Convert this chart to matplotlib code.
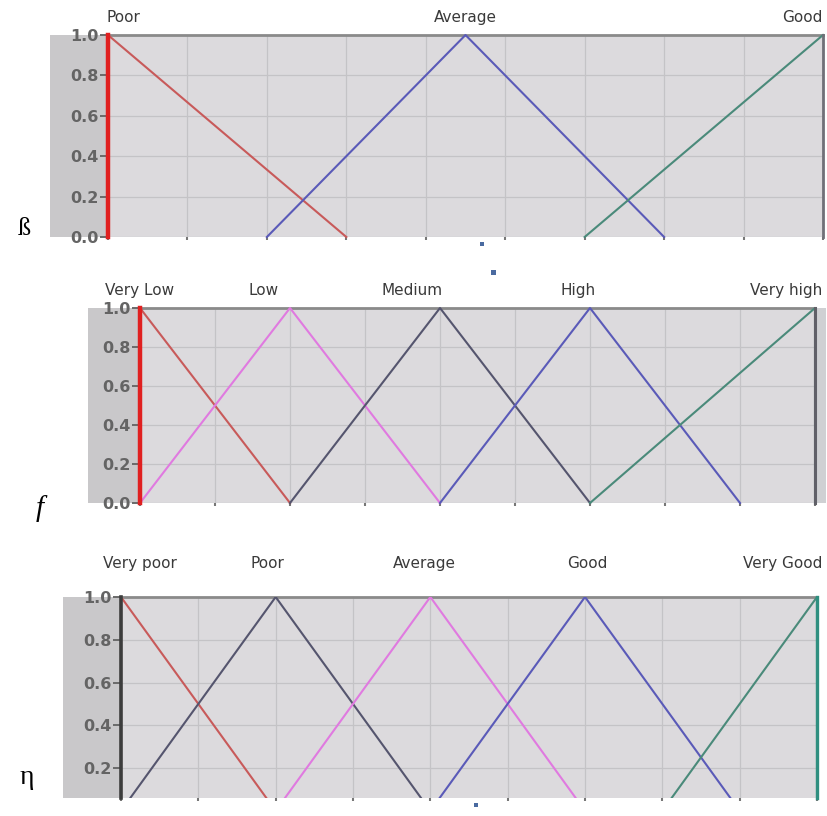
import matplotlib
matplotlib.use("Agg")
import matplotlib.pyplot as plt
from matplotlib.patches import Rectangle

W, H = 828, 816

# ---------------- data ----------------
ticks_y = [0.0, 0.2, 0.4, 0.6, 0.8, 1.0]
ticks_x = [0, 1, 2, 3, 4, 5, 6, 7, 8, 9]

# Panel 1 (beta)
p1_names = ["Poor", "Average", "Good"]
p1_x = [[0, 0, 3], [2, 4.5, 7], [6, 9, 9]]
p1_y = [[0, 1, 0], [0, 1, 0], [0, 1, 1]]
p1_label_x = [0.2, 4.5, 9.0]

# Panel 2 (f)
p2_names = ["Very Low", "Low", "Medium", "High", "Very high"]
p2_x = [[0, 0, 2], [0, 2, 4], [2, 4, 6], [4, 6, 8], [6, 9, 9]]
p2_y = [[0, 1, 0], [0, 1, 0], [0, 1, 0], [0, 1, 0], [0, 1, 0]]
p2_label_x = [0.0, 1.65, 3.63, 5.84, 9.1]

# Panel 3 (eta)
p3_names = ["Very poor", "Poor", "Average", "Good", "Very Good"]
p3_x = [[0, 0, 2], [0, 2, 4], [2, 4, 6], [4, 6, 8], [7, 9, 9]]
p3_y = [[0, 1, 0], [0, 1, 0], [0, 1, 0], [0, 1, 0], [0, 1, 0]]
p3_label_x = [0.25, 1.9, 3.92, 6.03, 9.07]

# ---------------- styles ----------------
C_RED = "#c85a5a"
C_RED_BAR = "#e02020"
C_BLUE = "#5a5ab8"
C_TEAL = "#4a8a7a"
C_PINK = "#e07ae0"
C_SLATE = "#55556e"
C_DARK = "#3c3c3c"
BG = "#dcdadd"
MARGIN = "#c9c8ca"
GRID = "#c4c3c6"
TXT = "#3a3a3a"
SERIF = ["Liberation Serif", "DejaVu Serif"]

fig = plt.figure(figsize=(W / 100, H / 100), dpi=100)
fig.patch.set_facecolor("white")


def px_axes(l, t, r, b):
    return [l / W, 1 - b / H, (r - l) / W, (b - t) / H]


def margin_rect(l, t, r, b, color=MARGIN):
    fig.patches.append(Rectangle((l / W, 1 - b / H), (r - l) / W, (b - t) / H,
                                 transform=fig.transFigure, facecolor=color,
                                 edgecolor="none", zorder=-5))


def setup(ax, ylim, yticks):
    ax.set_zorder(2)
    ax.set_facecolor(BG)
    ax.set_xlim(0, 9)
    ax.set_ylim(*ylim)
    ax.set_xticks(ticks_x)
    ax.set_xticklabels([])
    ax.set_yticks(yticks)
    ax.set_yticklabels(["%.1f" % v for v in yticks], fontsize=11.5,
                       color="#646464", fontweight="bold")
    ax.tick_params(axis="y", length=6, width=1.4, color="#6a6a6a", pad=1,
                   direction="out")
    ax.tick_params(axis="x", length=2, width=1.5, color="#777777",
                   direction="out")
    ax.grid(True, color=GRID, linewidth=0.9)
    ax.set_axisbelow(True)
    for s in ["left", "right", "bottom"]:
        ax.spines[s].set_visible(False)
    ax.spines["top"].set_color("#8a8a8a")
    ax.spines["top"].set_linewidth(2.0)


def top_labels(ax, names, xs, ytxt, has):
    for n, x, ha in zip(names, xs, has):
        ax.text(x, ytxt, n, ha=ha, va="bottom", fontsize=11, color=TXT,
                transform=ax.get_xaxis_transform(), clip_on=False)


# ---------------- Panel 1 ----------------
margin_rect(50, 35, 108, 237)
ax1 = fig.add_axes(px_axes(108, 35, 823, 237))
setup(ax1, (0, 1.0), ticks_y)
cols1 = [C_RED, C_BLUE, C_TEAL]
for xs, ys, c in zip(p1_x, p1_y, cols1):
    ax1.plot(xs, ys, color=c, lw=1.5, clip_on=False, zorder=3)
ax1.plot([0, 0], [0, 1], color=C_RED_BAR, lw=3.2, clip_on=False, zorder=4)
ax1.plot([9, 9], [0, 1], color="#707078", lw=2, clip_on=False, zorder=4)
top_labels(ax1, p1_names, p1_label_x, 1.05, ["center", "center", "right"])
fig.text(18 / W, 1 - 240 / H, "ß", fontsize=19, family=SERIF,
         ha="left", va="bottom", color="black")

# ---------------- Panel 2 ----------------
margin_rect(88, 308, 140, 503)
margin_rect(815, 308, 826, 503, "#cfd0d3")
ax2 = fig.add_axes(px_axes(140, 308, 815, 503))
setup(ax2, (0, 1.0), ticks_y)
cols2 = [C_RED, C_PINK, C_SLATE, C_BLUE, C_TEAL]
for xs, ys, c in zip(p2_x, p2_y, cols2):
    ax2.plot(xs, ys, color=c, lw=1.5, clip_on=False, zorder=3)
ax2.plot([0, 0], [0, 1], color=C_RED_BAR, lw=3.2, clip_on=False, zorder=4)
ax2.plot([9, 9], [0, 1], color="#606068", lw=2.2, clip_on=False, zorder=4)
top_labels(ax2, p2_names, p2_label_x, 1.05,
           ["center", "center", "center", "center", "right"])
fig.text(36 / W, 1 - 522 / H, "f", fontsize=21, family=SERIF,
         style="italic", ha="left", va="bottom", color="black")

# ---------------- Panel 3 ----------------
margin_rect(63, 597, 121, 798)
ax3 = fig.add_axes(px_axes(121, 597, 817, 798))
setup(ax3, (0.06, 1.0), ticks_y[1:])
cols3 = [C_RED, C_SLATE, C_PINK, C_BLUE, C_TEAL]
for xs, ys, c in zip(p3_x, p3_y, cols3):
    ax3.plot(xs, ys, color=c, lw=1.5, zorder=3)
ax3.plot([0, 0], [0.06, 1], color=C_DARK, lw=2.6, clip_on=False, zorder=4)
ax3.plot([9, 9], [0.06, 1], color="#2f8f80", lw=2.4, clip_on=False, zorder=4)
top_labels(ax3, p3_names, p3_label_x, 1.13,
           ["center", "center", "center", "center", "right"])
fig.text(20 / W, 1 - 790 / H, "η", fontsize=20, family=SERIF,
         ha="left", va="bottom", color="black")

# small scan artifacts (blue squares)
for (x, y, s) in [(480, 242, 4), (491, 270, 5), (474, 803, 4)]:
    fig.patches.append(Rectangle((x / W, 1 - (y + s) / H), s / W, s / H,
                                 transform=fig.transFigure,
                                 facecolor="#4a6aa0", edgecolor="none",
                                 zorder=5))

fig.savefig("out.png", dpi=100, facecolor="white")
